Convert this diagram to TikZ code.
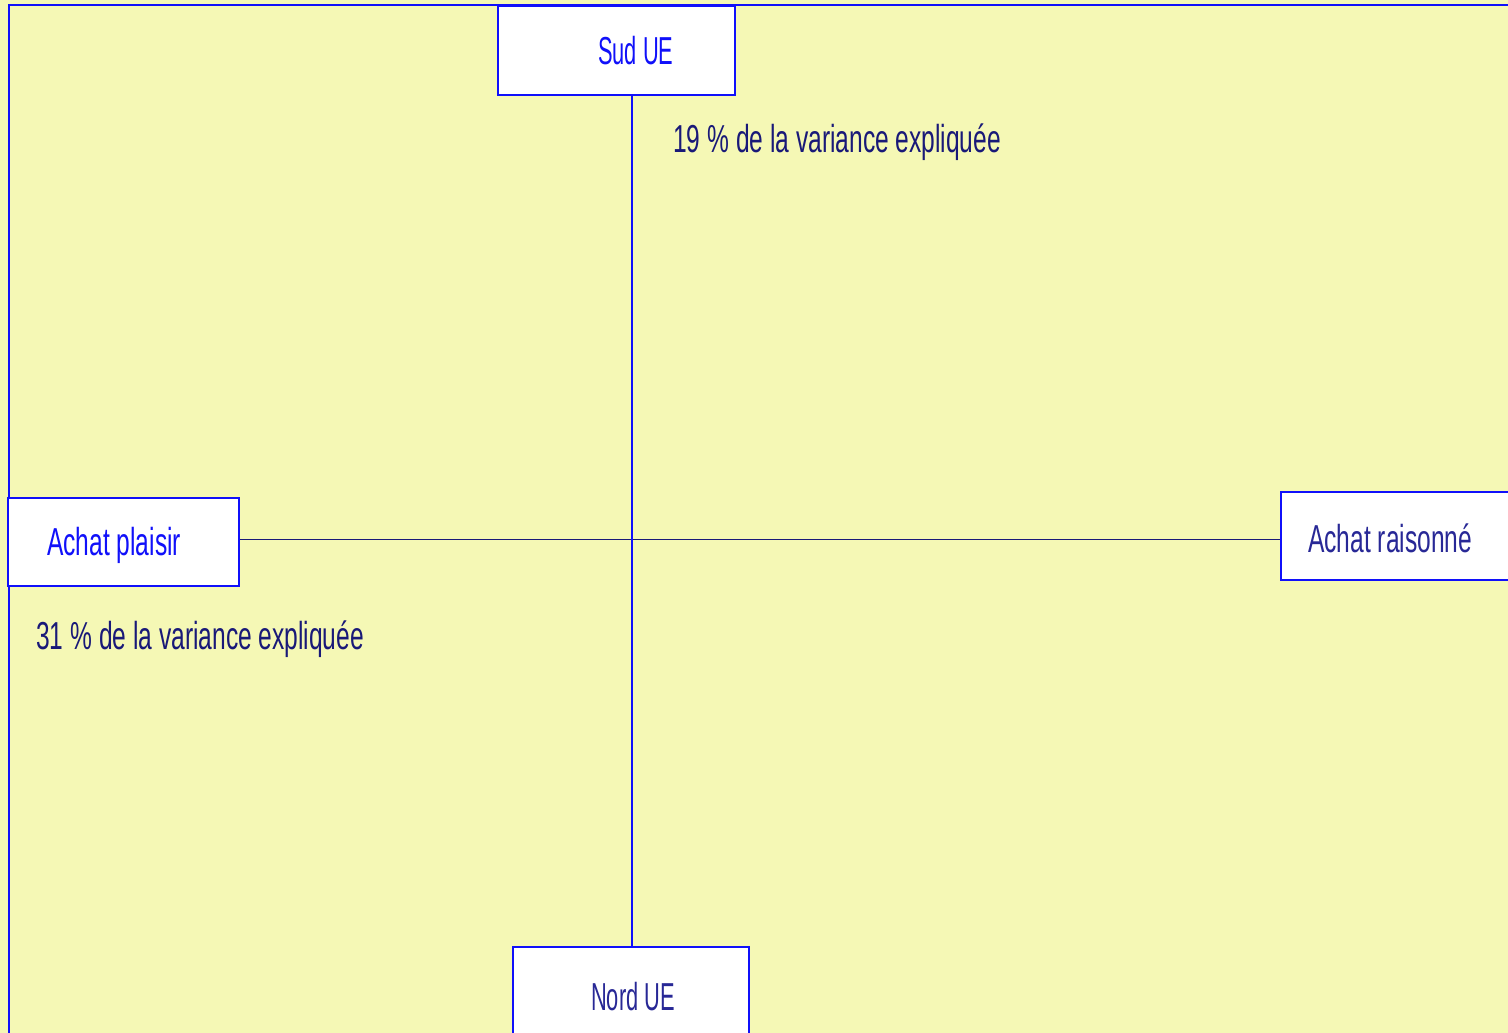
\documentclass[tikz,border=0pt]{standalone}
\usepackage{fontspec}
\newfontfamily\condfont[FakeStretch=0.63]{Liberation Sans}
\newfontfamily\condfontue[FakeStretch=0.56]{Liberation Sans}
\definecolor{bg}{RGB}{245,248,181}
\definecolor{brightblue}{RGB}{16,16,250}
\definecolor{navy}{RGB}{40,40,150}
\definecolor{darknavy}{RGB}{25,25,120}
\tikzset{
  box/.style={draw=brightblue, line width=2pt, fill=white, rectangle, inner sep=0pt},
  lbl/.style={inner sep=0pt, anchor=base west, font=\condfont\fontsize{39}{44}\selectfont},
  lblue/.style={inner sep=0pt, anchor=base west, font=\condfontue\fontsize{39}{44}\selectfont},
  axisv/.style={draw=brightblue, line width=2pt},
  axish/.style={draw=darknavy, line width=1pt},
}
\begin{document}
\begin{tikzpicture}[x=1pt,y=-1pt]
\useasboundingbox (0,0) rectangle (1508,1033);
\clip (0,0) rectangle (1508,1033);
\fill[bg] (0,0) rectangle (1508,1033);
% frame
\draw[brightblue, line width=2pt] (9,1040) -- (9,5) -- (1520,5);
% boxes
\node[box, minimum width=237pt, minimum height=89pt] (sud) at (616.5,50.5) {};
\node[box, minimum width=231pt, minimum height=88pt] (plaisir) at (123.5,542) {};
\node[box, minimum width=260pt, minimum height=88pt] (raison) at (1411,536) {};
\node[box, minimum width=236pt, minimum height=100pt] (nord) at (631,997) {};
% axes
\coordinate (vtop) at (632,95);
\coordinate (vbot) at (632,947);
\draw[axish] (plaisir.east |- 0,539) -- (raison.west |- 0,539);
\draw[axisv] (vtop) -- (vbot);
% texts
\node[lblue, text=brightblue] (tsud) at (598,65) {Sud UE};
\node[lbl, text=brightblue] (tplaisir) at (47,555) {Achat plaisir};
\node[lbl, text=navy] (traison) at (1308,552) {Achat raisonné};
\node[lblue, text=navy] (tnord) at (591,1010) {Nord UE};
\node[lbl, text=darknavy] (l19) at (673,152) {19 \% de la variance expliquée};
\node[lbl, text=darknavy] (l31) at (36,649) {31 \% de la variance expliquée};
\end{tikzpicture}
\end{document}
